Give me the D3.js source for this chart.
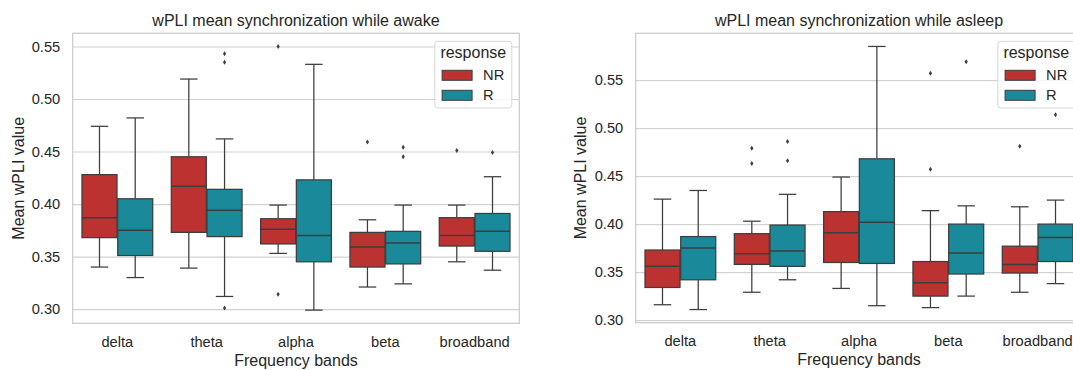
<!DOCTYPE html>
<html>
<head>
<meta charset="utf-8">
<script src="https://cdn.jsdelivr.net/npm/d3@7"></script>
<style>
	body { margin: 0; background: #fff; overflow: hidden; }
	svg { display: block; font-family: "Liberation Sans", Arial, sans-serif; }
</style>
</head>
<body>
<div id="chart"></div>
<script>
// categories
const bands = ["delta", "theta", "alpha", "beta", "broadband"];
const responses = ["NR", "R"];
const yTicks = [0.30, 0.35, 0.40, 0.45, 0.50, 0.55];

// box stats per band: [whisker low, q1, median, q3, whisker high]
const awakeNR = [
	[0.340, 0.368, 0.387, 0.428, 0.474],
	[0.339, 0.373, 0.417, 0.445, 0.519],
	[0.353, 0.362, 0.376, 0.386, 0.399],
	[0.321, 0.340, 0.359, 0.373, 0.385],
	[0.345, 0.360, 0.370, 0.387, 0.399]
];
const awakeR = [
	[0.330, 0.351, 0.375, 0.405, 0.482],
	[0.312, 0.369, 0.394, 0.414, 0.462],
	[0.299, 0.345, 0.370, 0.423, 0.533],
	[0.324, 0.343, 0.363, 0.374, 0.399],
	[0.337, 0.355, 0.374, 0.391, 0.426]
];
const awakeNROut = [[], [], [0.550, 0.314], [0.459], [0.451]];
const awakeROut = [[], [0.543, 0.535, 0.301], [], [0.454, 0.445], [0.449]];

const asleepNR = [
	[0.316, 0.334, 0.356, 0.373, 0.426],
	[0.329, 0.358, 0.369, 0.390, 0.403],
	[0.333, 0.360, 0.391, 0.413, 0.449],
	[0.313, 0.325, 0.339, 0.361, 0.414],
	[0.329, 0.349, 0.358, 0.377, 0.418]
];
const asleepR = [
	[0.311, 0.342, 0.375, 0.387, 0.435],
	[0.342, 0.356, 0.372, 0.399, 0.431],
	[0.315, 0.359, 0.402, 0.468, 0.585],
	[0.325, 0.348, 0.370, 0.400, 0.419],
	[0.338, 0.361, 0.386, 0.400, 0.425]
];
const asleepNROut = [[], [0.479, 0.463], [], [0.557, 0.457], [0.481]];
const asleepROut = [[], [0.486, 0.466], [], [0.569], [0.514]];

const colors = { NR: "#bb3230", R: "#1a8a9a" };
const edge = "#3d3d3d";
const textColor = "#262626";
const gridColor = "#d2d2d2";

const svg = d3.select("#chart").append("svg")
	.attr("width", 1073)
	.attr("height", 370);

function drawPanel(cfg) {
	const w = cfg.width, h = cfg.height;
	const g = svg.append("g").attr("transform", `translate(${cfg.left},${cfg.top})`);

	const all = [];
	[cfg.nr, cfg.r].forEach(s => s.forEach(d => all.push(d[0], d[4])));
	[cfg.nrOut, cfg.rOut].forEach(s => s.forEach(d => all.push(...d)));
	const lo = d3.min(all), hi = d3.max(all), pad = (hi - lo) * 0.05;

	const x = d3.scaleBand().domain(bands).range([0, w]);
	const hue = d3.scaleBand().domain(responses).range([0, x.bandwidth() * 0.8]);
	const y = d3.scaleLinear().domain([lo - pad, hi + pad]).range([h, 0]);

	// grid + y ticks
	const ya = g.append("g")
		.call(d3.axisLeft(y).tickValues(yTicks).tickSize(-w).tickPadding(12.5).tickFormat(d3.format(".2f")));
	ya.select(".domain").remove();
	ya.selectAll("line").attr("stroke", gridColor).attr("stroke-width", 1.2);
	ya.selectAll("text").attr("fill", textColor).style("font-size", "14.67px");

	const xa = g.append("g")
		.attr("transform", `translate(0,${h})`)
		.call(d3.axisBottom(x).tickSize(0).tickPadding(12.8));
	xa.select(".domain").remove();
	xa.selectAll("text").attr("fill", textColor).style("font-size", "14.67px");

	// frame
	g.append("rect")
		.attr("width", w).attr("height", h)
		.attr("fill", "none").attr("stroke", "#cccccc").attr("stroke-width", 1.25);

	const boxW = hue.bandwidth() * 0.98;
	const series = [
		{ key: "NR", stats: cfg.nr, out: cfg.nrOut },
		{ key: "R", stats: cfg.r, out: cfg.rOut }
	];

	series.forEach(s => {
		const sg = g.append("g");
		bands.forEach((b, i) => {
			const d = s.stats[i];
			const cx = x(b) + x.bandwidth() * 0.1 + hue(s.key) + hue.bandwidth() / 2;
			const bg = sg.append("g");
			// whiskers
			bg.selectAll("line.wh")
				.data([[d[0], d[1]], [d[3], d[4]]])
				.enter().append("line")
				.attr("x1", cx).attr("x2", cx)
				.attr("y1", p => y(p[0])).attr("y2", p => y(p[1]))
				.attr("stroke", edge).attr("stroke-width", 1.25);
			// caps
			bg.selectAll("line.cap")
				.data([d[0], d[4]])
				.enter().append("line")
				.attr("x1", cx - boxW / 4).attr("x2", cx + boxW / 4)
				.attr("y1", y).attr("y2", y)
				.attr("stroke", edge).attr("stroke-width", 1.25);
			bg.append("rect")
				.attr("x", cx - boxW / 2).attr("width", boxW)
				.attr("y", y(d[3])).attr("height", y(d[1]) - y(d[3]))
				.attr("fill", colors[s.key])
				.attr("stroke", edge).attr("stroke-width", 1.25);
			bg.append("line")
				.attr("x1", cx - boxW / 2).attr("x2", cx + boxW / 2)
				.attr("y1", y(d[2])).attr("y2", y(d[2]))
				.attr("stroke", edge).attr("stroke-width", 1.5);
			// fliers
			bg.selectAll("path")
				.data(s.out[i])
				.enter().append("path")
				.attr("d", v => `M${cx},${y(v) - 2.5}L${cx + 1.6},${y(v)}L${cx},${y(v) + 2.5}L${cx - 1.6},${y(v)}Z`)
				.attr("fill", edge);
		});
	});

	// title and labels
	g.append("text")
		.attr("x", w / 2).attr("y", -7.3)
		.attr("text-anchor", "middle")
		.attr("fill", textColor).style("font-size", "16px")
		.text(cfg.title);
	g.append("text")
		.attr("x", w / 2).attr("y", h + 42.7)
		.attr("text-anchor", "middle")
		.attr("fill", textColor).style("font-size", "16px")
		.text("Frequency bands");
	g.append("text")
		.attr("transform", "rotate(-90)")
		.attr("x", -h / 2).attr("y", cfg.ylabelX)
		.attr("text-anchor", "middle")
		.attr("fill", textColor).style("font-size", "16px")
		.text("Mean wPLI value");

	// legend
	const lg = g.append("g").attr("transform", `translate(${w - 7.5 - 77},8)`);
	lg.append("rect")
		.attr("width", 77).attr("height", 66.7).attr("rx", 3)
		.attr("fill", "#fff").attr("fill-opacity", 0.8)
		.attr("stroke", "#d8d8d8").attr("stroke-width", 1);
	lg.append("text")
		.attr("x", 38.5).attr("y", 16.3)
		.attr("text-anchor", "middle")
		.attr("fill", textColor).style("font-size", "16px")
		.text("response");
	const items = lg.selectAll("g.item")
		.data(responses)
		.enter().append("g")
		.attr("transform", (d, i) => `translate(0,${29 + i * 20})`);
	items.append("rect")
		.attr("x", 7.3).attr("width", 30).attr("height", 10)
		.attr("fill", d => colors[d])
		.attr("stroke", edge).attr("stroke-width", 1);
	items.append("text")
		.attr("x", 48.3).attr("y", 10)
		.attr("fill", textColor).style("font-size", "14.67px")
		.text(d => d);
}

drawPanel({
	title: "wPLI mean synchronization while awake",
	nr: awakeNR, r: awakeR, nrOut: awakeNROut, rOut: awakeROut,
	left: 72.7, top: 33.3, width: 446.6, height: 290, ylabelX: -48.7
});
drawPanel({
	title: "wPLI mean synchronization while asleep",
	nr: asleepNR, r: asleepR, nrOut: asleepNROut, rOut: asleepROut,
	left: 635.7, top: 33.3, width: 446.6, height: 289.4, ylabelX: -49.7
});
</script>
</body>
</html>
